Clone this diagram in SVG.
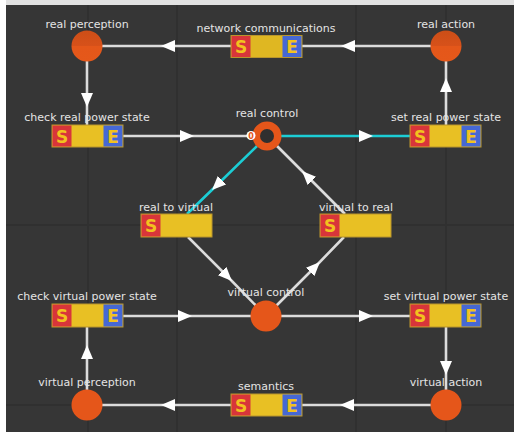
<svg xmlns="http://www.w3.org/2000/svg" width="514" height="432" viewBox="0 0 514 432">
<defs>
<style>
.lbl{font-family:"DejaVu Sans",sans-serif;font-size:11px;fill:#e4e4e4;text-anchor:middle}
.let{font-family:"DejaVu Sans",sans-serif;font-size:17px;font-weight:bold;fill:#f2c21e;text-anchor:middle}
.box{fill:#e8c024;stroke:#b9952c;stroke-width:1}
.s{fill:#d8353a}
.e{fill:#4668d4}
.node{fill:#e5561a}
.w{fill:none;stroke:#dcdcdc;stroke-width:2.6;marker-mid:url(#ah)}
.c{fill:none;stroke:#1ccdd5;stroke-width:2.6;marker-mid:url(#ah)}
.grid{stroke:#303030;stroke-width:2}
</style>
<marker id="ah" markerUnits="userSpaceOnUse" markerWidth="14" markerHeight="12" refX="7" refY="6" orient="auto" viewBox="0 0 14 12">
<path d="M0,0 L14,6 L0,12 z" fill="#ffffff"/>
</marker>
<linearGradient id="rg" x1="0" y1="0" x2="0" y2="1">
<stop offset="0" stop-color="#cc4e17"/>
<stop offset="0.5" stop-color="#d7511a"/>
<stop offset="0.5" stop-color="#e4571a"/>
<stop offset="1" stop-color="#e5581a"/>
</linearGradient>
</defs>
<rect x="0" y="0" width="514" height="432" fill="#363636"/>
<rect x="0" y="0" width="514" height="5" fill="#e2e2e2"/>
<rect x="0" y="0" width="6" height="432" fill="#ffffff"/>
<g id="grid">
<line class="grid" x1="88" y1="5" x2="88" y2="432"/>
<line class="grid" x1="177" y1="5" x2="177" y2="432"/>
<line class="grid" x1="356" y1="5" x2="356" y2="432"/>
<line class="grid" x1="446" y1="5" x2="446" y2="432" stroke="#2a2a2a"/>
<line class="grid" x1="6" y1="225" x2="514" y2="225"/>
<line class="grid" x1="6" y1="405" x2="514" y2="405" stroke="#282828"/>
</g>
<g id="connectors">
<path class="w" d="M446,46 L348,46 L302,46"/>
<path class="w" d="M231,46 L168,46 L87,46"/>
<path class="w" d="M87,46 L87,100 L87,125"/>
<path class="w" d="M123,136 L187,136 L250,136"/>
<path class="c" d="M281,136 L366,136 L410,136"/>
<path class="w" d="M446,125 L446,85 L446,46"/>
<path class="c" d="M257,146 L217,185 L187,214"/>
<path class="w" d="M188,237 L227,276 L266,316"/>
<path class="w" d="M266,316 L315,267 L344,237"/>
<path class="w" d="M345,214 L307,176 L277,146"/>
<path class="w" d="M123,316 L185,316 L266,316"/>
<path class="w" d="M266,316 L366,316 L410,316"/>
<path class="w" d="M446,327 L446,368 L446,405"/>
<path class="w" d="M446,405 L347,405 L302,405"/>
<path class="w" d="M231,405 L168,405 L87,405"/>
<path class="w" d="M87,405 L87,352 L87,327"/>
</g>
<g id="real-perception">
<circle cx="87" cy="46" r="15.5" fill="url(#rg)"/>
<text class="lbl" x="87" y="28">real perception</text>
</g>
<g id="real-action">
<circle cx="446" cy="46" r="15.5" fill="url(#rg)"/>
<text class="lbl" x="446" y="28">real action</text>
</g>
<g id="network-communications">
<rect class="box" x="231" y="35.5" width="71" height="22"/>
<rect x="250" y="36" width="33" height="21" fill="#d8b022" opacity="0.6"/>
<rect class="s" x="231.5" y="36" width="19" height="21"/>
<rect class="e" x="282.5" y="36" width="19" height="21"/>
<text class="let" x="241" y="53">S</text>
<text class="let" x="292" y="53">E</text>
<text class="lbl" x="266" y="32">network communications</text>
</g>
<g id="check-real-power-state">
<rect class="box" x="52" y="125" width="71" height="22"/>
<rect class="s" x="52.5" y="125.5" width="19" height="21"/>
<rect class="e" x="103.5" y="125.5" width="19" height="21"/>
<text class="let" x="62" y="142.5">S</text>
<text class="let" x="113" y="142.5">E</text>
<text class="lbl" x="87" y="121">check real power state</text>
</g>
<g id="real-control">
<circle cx="267" cy="136" r="14.5" fill="#e5561a"/>
<circle cx="267" cy="136" r="7" fill="#2f2f2f"/>
<circle cx="251" cy="135.5" r="4.5" fill="#ffffff"/>
<text x="251" y="138.5" font-family="DejaVu Sans, sans-serif" font-size="8" font-weight="bold" fill="#e5561a" text-anchor="middle">0</text>
<text class="lbl" x="267" y="117">real control</text>
</g>
<g id="set-real-power-state">
<rect class="box" x="410" y="125" width="71" height="22"/>
<rect class="s" x="410.5" y="125.5" width="19" height="21"/>
<rect class="e" x="461.5" y="125.5" width="19" height="21"/>
<text class="let" x="420" y="142.5">S</text>
<text class="let" x="471" y="142.5">E</text>
<text class="lbl" x="446" y="121">set real power state</text>
</g>
<g id="real-to-virtual">
<rect class="box" x="141" y="214" width="71" height="23"/>
<rect class="s" x="141.5" y="214.5" width="19" height="22"/>
<text class="let" x="151" y="232">S</text>
<text class="lbl" x="176" y="211">real to virtual</text>
</g>
<g id="virtual-to-real">
<rect class="box" x="320" y="214" width="71" height="23"/>
<rect class="s" x="320.5" y="214.5" width="19" height="22"/>
<text class="let" x="330" y="232">S</text>
<text class="lbl" x="356" y="211">virtual to real</text>
</g>
<g id="check-virtual-power-state">
<rect class="box" x="52" y="304" width="71" height="23"/>
<rect class="s" x="52.5" y="304.5" width="19" height="22"/>
<rect class="e" x="103.5" y="304.5" width="19" height="22"/>
<text class="let" x="62" y="322">S</text>
<text class="let" x="113" y="322">E</text>
<text class="lbl" x="87" y="300">check virtual power state</text>
</g>
<g id="virtual-control">
<circle class="node" cx="266" cy="316" r="15.5"/>
<text class="lbl" x="266" y="296">virtual control</text>
</g>
<g id="set-virtual-power-state">
<rect class="box" x="410" y="304" width="71" height="23"/>
<rect class="s" x="410.5" y="304.5" width="19" height="22"/>
<rect class="e" x="461.5" y="304.5" width="19" height="22"/>
<text class="let" x="420" y="322">S</text>
<text class="let" x="471" y="322">E</text>
<text class="lbl" x="446" y="300">set virtual power state</text>
</g>
<g id="virtual-perception">
<circle class="node" cx="87" cy="405" r="15.5"/>
<text class="lbl" x="87" y="386">virtual perception</text>
</g>
<g id="semantics">
<rect class="box" x="231" y="394" width="71" height="22"/>
<rect class="s" x="231.5" y="394.5" width="19" height="21"/>
<rect class="e" x="282.5" y="394.5" width="19" height="21"/>
<text class="let" x="241" y="411.5">S</text>
<text class="let" x="292" y="411.5">E</text>
<text class="lbl" x="266" y="390">semantics</text>
</g>
<g id="virtual-action">
<circle class="node" cx="446" cy="405" r="15.5"/>
<text class="lbl" x="446" y="386">virtual action</text>
</g>
</svg>
